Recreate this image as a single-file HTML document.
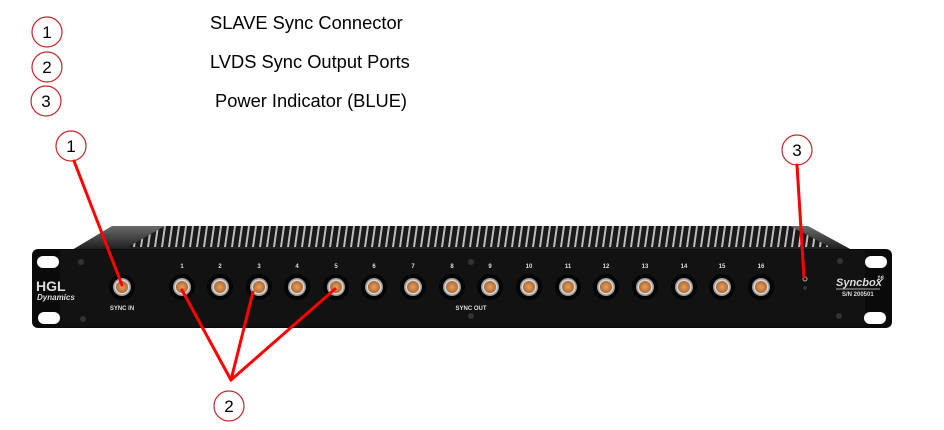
<!DOCTYPE html>
<html><head><meta charset="utf-8"><style>
html,body{margin:0;padding:0;background:#fff;width:944px;height:430px;overflow:hidden}
svg{display:block}
text{font-family:"Liberation Sans",sans-serif}
</style></head><body>
<svg width="944" height="430" viewBox="0 0 944 430" xmlns="http://www.w3.org/2000/svg">
<defs>
<linearGradient id="top" x1="0" y1="0" x2="0" y2="1"><stop offset="0" stop-color="#6a6a6a"/><stop offset="1" stop-color="#1c1c1c"/></linearGradient>
<pattern id="fins" x="0" y="226" width="7" height="21" patternUnits="userSpaceOnUse"><rect width="7" height="21" fill="#1a1a1a"/><polygon points="0,21 3,0 5,0 2,21" fill="#bdbdbd"/></pattern>
<radialGradient id="pin"><stop offset="0" stop-color="#e8a060"/><stop offset="1" stop-color="#b06a30"/></radialGradient>
<g id="conn"><circle r="13" fill="#050505"/><circle r="9" fill="#9a9a9a"/><circle r="7.5" fill="#d8d8d8"/><circle r="6" fill="url(#pin)"/></g>
</defs>
<g font-size="18.3" fill="#000">
<text x="210" y="29">SLAVE Sync Connector</text>
<text x="210" y="68">LVDS Sync Output Ports</text>
<text x="215" y="107">Power Indicator (BLUE)</text>
</g>
<g fill="#fff" stroke="#c0282a" stroke-width="1.2">
<circle cx="47" cy="32" r="15"/><circle cx="47" cy="67" r="15"/><circle cx="46" cy="101" r="15"/>
<circle cx="71" cy="146" r="15"/><circle cx="797" cy="150" r="15"/><circle cx="229" cy="406" r="15"/>
</g>
<g font-size="17" text-anchor="middle" fill="#000">
<text x="47" y="38">1</text><text x="47" y="73">2</text><text x="46" y="107">3</text>
<text x="71" y="152">1</text><text x="797" y="156">3</text><text x="229" y="412">2</text>
</g>
<polygon points="72,250 112,226 808,226 852,250" fill="url(#top)"/>
<polygon points="128,247 165,226 790,226 830,247" fill="url(#fins)"/>
<rect x="32" y="249" width="860" height="79" rx="6" fill="#0a0a0a"/>
<rect x="60" y="250" width="805" height="77" fill="#121212"/>
<g fill="#fff"><rect x="37" y="256" width="22" height="12" rx="6"/><rect x="38" y="312" width="22" height="12" rx="6"/>
<rect x="865" y="256" width="22" height="12" rx="6"/><rect x="864" y="312" width="22" height="12" rx="6"/></g>
<g fill="#333"><circle cx="81" cy="262" r="3"/><circle cx="83" cy="319" r="3"/><circle cx="840" cy="261" r="3"/><circle cx="839" cy="316" r="3"/><circle cx="471" cy="262" r="3"/><circle cx="471" cy="316" r="3"/></g>
<text x="36" y="291" font-size="14" font-weight="bold" fill="#ddd">HGL</text>
<text x="37" y="300" font-size="8" font-style="italic" font-weight="bold" fill="#ddd">Dynamics</text>
<use href="#conn" x="122" y="287"/>
<text x="122" y="310" font-size="6" font-weight="bold" fill="#ddd" text-anchor="middle">SYNC IN</text>
<g font-size="6" font-weight="bold" fill="#ddd" text-anchor="middle">
<use href="#conn" x="182" y="287"/><text x="182" y="268">1</text>
<use href="#conn" x="220" y="287"/><text x="220" y="268">2</text>
<use href="#conn" x="259" y="287"/><text x="259" y="268">3</text>
<use href="#conn" x="297" y="287"/><text x="297" y="268">4</text>
<use href="#conn" x="336" y="287"/><text x="336" y="268">5</text>
<use href="#conn" x="374" y="287"/><text x="374" y="268">6</text>
<use href="#conn" x="413" y="287"/><text x="413" y="268">7</text>
<use href="#conn" x="452" y="287"/><text x="452" y="268">8</text>
<use href="#conn" x="490" y="287"/><text x="490" y="268">9</text>
<use href="#conn" x="529" y="287"/><text x="529" y="268">10</text>
<use href="#conn" x="568" y="287"/><text x="568" y="268">11</text>
<use href="#conn" x="606" y="287"/><text x="606" y="268">12</text>
<use href="#conn" x="645" y="287"/><text x="645" y="268">13</text>
<use href="#conn" x="684" y="287"/><text x="684" y="268">14</text>
<use href="#conn" x="722" y="287"/><text x="722" y="268">15</text>
<use href="#conn" x="761" y="287"/><text x="761" y="268">16</text>
<text x="471" y="310">SYNC OUT</text>
</g>
<circle cx="805" cy="279" r="2" fill="none" stroke="#aaa"/><circle cx="805" cy="288" r="2" fill="#333"/>
<text x="836" y="286" font-size="11" font-style="italic" font-weight="bold" fill="#ddd">Syncbox</text>
<text x="877" y="280" font-size="6" font-style="italic" font-weight="bold" fill="#ddd">16</text>
<line x1="836" y1="289" x2="880" y2="289" stroke="#ddd" stroke-width="0.8"/>
<text x="842" y="296" font-size="6" font-weight="bold" fill="#ddd">S/N 200501</text>
<g stroke="#f00" stroke-width="3" stroke-linecap="round">
<line x1="74" y1="161" x2="122" y2="285"/>
<line x1="797" y1="165" x2="804" y2="277"/>
<line x1="231" y1="380" x2="182" y2="290"/>
<line x1="231" y1="380" x2="253" y2="292"/>
<line x1="231" y1="380" x2="335" y2="289"/>
</g>
</svg>
</body></html>
